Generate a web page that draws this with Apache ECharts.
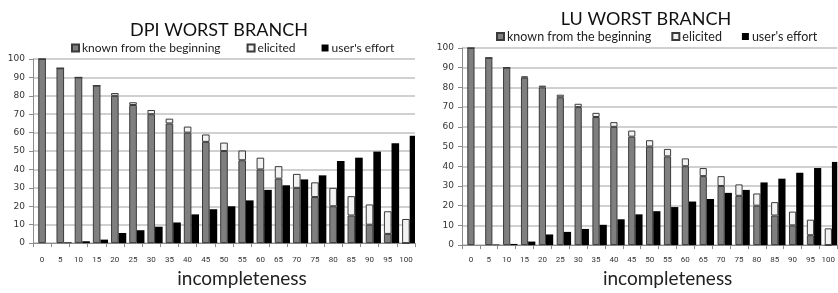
<!DOCTYPE html>
<html>
<head>
<meta charset="utf-8">
<script src="https://cdn.jsdelivr.net/npm/echarts@6/dist/echarts.min.js"></script>
<style>
  html, body { margin: 0; padding: 0; background: #fff; }
  #chart { width: 838px; height: 293px; }
</style>
</head>
<body>
<div id="chart"></div>
<script>
const categories = ['0','5','10','15','20','25','30','35','40','45','50','55','60','65','70','75','80','85','90','95','100'];
const yTicks = [0, 10, 20, 30, 40, 50, 60, 70, 80, 90, 100];

// DPI worst branch
const dpiKnown    = [100, 95, 90, 85.5, 80, 75, 70, 65, 60, 55, 50, 45, 40, 35, 30, 25, 20, 15, 10, 5, 0];
const dpiElicited = [0, 0, 0, 0, 1.5, 1.5, 2.3, 2.6, 3.3, 4, 4.6, 5.3, 6.4, 6.8, 7.6, 8, 10, 10.5, 11, 12.3, 13.1];
const dpiEffort   = [0, 0.4, 1, 1.9, 5.5, 7, 8.9, 11.2, 15.6, 18.4, 20, 23.2, 28.9, 31.4, 34.6, 36.8, 44.6, 46.4, 49.7, 54.2, 58.3];

// LU worst branch
const luKnown    = [100, 95, 90, 85, 80, 75, 70, 65, 60, 55, 50, 45, 40, 35, 30, 25, 20, 15, 10, 5, 0];
const luElicited = [0, 0, 0, 0.6, 0.9, 1.3, 1.7, 2.1, 2.4, 3.1, 3.2, 3.8, 4, 4.1, 5, 5.8, 6.2, 6.8, 7, 7.9, 8.5];
const luEffort   = [0, 0.3, 0.6, 1.8, 5.4, 6.7, 8.2, 10.3, 13.1, 15.6, 17.2, 19.3, 22.1, 23.4, 26.5, 28, 31.8, 33.7, 36.7, 39.1, 42.2];

const names = ['known from the beginning', 'elicited', "user's effort"];
const textFont = 'Lato';

const chart = echarts.init(document.getElementById('chart'));

function xAxis(gridIndex, nameGap, labelMargin) {
  return {
    type: 'category',
    gridIndex: gridIndex,
    data: categories,
    name: 'incompleteness',
    nameLocation: 'middle',
    nameGap: nameGap,
    nameTextStyle: { fontFamily: textFont, fontSize: 19, color: '#222', padding: [0, 0, 0, 36] },
    axisLine: { lineStyle: { color: '#8c8c8c', width: 1 } },
    axisTick: { show: true, length: 4, lineStyle: { color: '#8c8c8c' } },
    axisLabel: { interval: 0, fontFamily: 'Roboto', fontSize: 8, color: '#333', margin: labelMargin }
  };
}

function yAxis(gridIndex) {
  return {
    type: 'value',
    gridIndex: gridIndex,
    min: yTicks[0],
    max: yTicks[yTicks.length - 1],
    interval: 10,
    axisLine: { show: true, lineStyle: { color: '#8c8c8c', width: 1 } },
    axisTick: { show: true, length: 4, lineStyle: { color: '#8c8c8c' } },
    axisLabel: { fontFamily: 'DejaVu Sans', fontSize: 9, color: '#333', margin: 8 },
    splitLine: { lineStyle: { color: '#d0d0d0', width: 2 } }
  };
}

function panelSeries(idx, known, elicited, effort, bw) {
  return [
    // empty spacer so that the grey stack sits in the middle of each category
    { name: 'pad' + idx, type: 'bar', xAxisIndex: idx, yAxisIndex: idx, stack: 'pad' + idx,
      barWidth: bw, barGap: '0%', data: [], silent: true },
    { name: names[0], type: 'bar', xAxisIndex: idx, yAxisIndex: idx, stack: 'k' + idx,
      barWidth: bw, barGap: '0%', data: known,
      itemStyle: { color: '#7f7f7f', borderColor: '#3a3a3a', borderWidth: 1 } },
    { name: names[1], type: 'bar', xAxisIndex: idx, yAxisIndex: idx, stack: 'k' + idx,
      barWidth: bw, barGap: '0%', data: elicited,
      itemStyle: { color: '#f2f2f2', borderColor: '#3a3a3a', borderWidth: 1 } },
    { name: names[2], type: 'bar', xAxisIndex: idx, yAxisIndex: idx, stack: 'e' + idx,
      barWidth: bw, barGap: '0%', data: effort,
      itemStyle: { color: '#000' } }
  ];
}

const option = {
  animation: false,
  title: [
    { text: 'DPI WORST BRANCH', left: 214, top: 16, textAlign: 'center',
      textStyle: { fontFamily: textFont, fontSize: 18, fontWeight: 'normal', color: '#111' } },
    { text: 'LU WORST BRANCH', left: 641, top: 5, textAlign: 'center',
      textStyle: { fontFamily: textFont, fontSize: 18, fontWeight: 'normal', color: '#111' } }
  ],
  legend: [
    { data: names, left: 66, top: 37, itemWidth: 7, itemHeight: 7, itemGap: 26, icon: 'rect',
      textStyle: { fontFamily: textFont, fontSize: 12, color: '#222', padding: [0, 0, 0, -2] } },
    { data: names, left: 491, top: 25, itemWidth: 7, itemHeight: 7, itemGap: 20, icon: 'rect',
      textStyle: { fontFamily: textFont, fontSize: 12.5, color: '#222', padding: [0, 0, 0, -2] } }
  ],
  grid: [
    { left: 33, top: 59, width: 382, height: 196 },
    { left: 462, top: 48, width: 378, height: 204 }
  ],
  xAxis: [xAxis(0, 17, 13), xAxis(1, 18, 11)],
  yAxis: [yAxis(0), yAxis(1)],
  series: [].concat(
    panelSeries(0, dpiKnown, dpiElicited, dpiEffort, 7.6),
    panelSeries(1, luKnown, luElicited, luEffort, 7.2)
  )
};

chart.setOption(option);
</script>
</body>
</html>
